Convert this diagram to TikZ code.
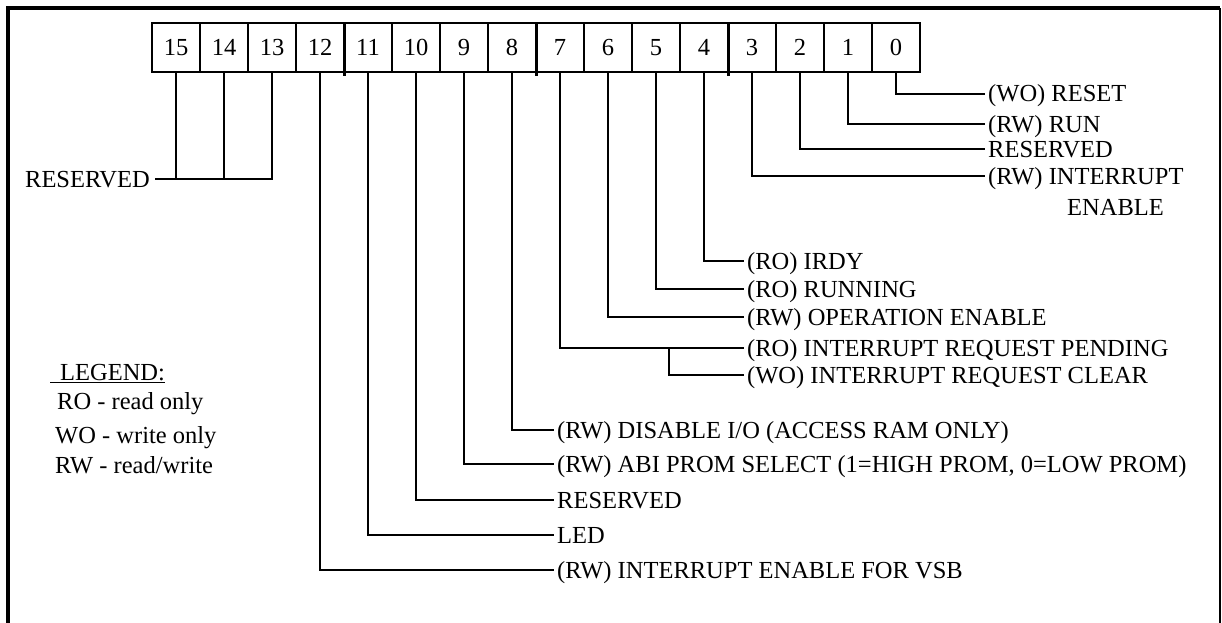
\documentclass[tikz,border=0pt]{standalone}
\usepackage{fontspec}
\setmainfont{Liberation Serif}
\begin{document}
\begin{tikzpicture}[x=1pt,y=-1pt,
  txt/.style={font=\fontsize{24.5}{28}\selectfont},
  cell/.style={txt,draw,line width=1.3pt,minimum width=48pt,minimum height=49pt,inner sep=0pt},
  lab/.style={txt,anchor=west,inner xsep=3pt,inner ysep=0pt,text height=16pt,text depth=0pt},
  leg/.style={txt,anchor=west,inner sep=0pt,text height=16pt,text depth=0pt},
  conn/.style={line width=1.3pt},
  sepline/.style={line width=2.6pt},
  frame/.style={line width=4pt}]
\useasboundingbox (0,0) rectangle (1222,623);
% frame
\draw[frame] (8,623) -- (8,8) -- (1220,8);
\draw[line width=2pt] (1219.5,8) -- (1219.5,623);
% register cells
\foreach \i in {0,...,15}
  \node[cell] (b\i) at ({176+48*(15-\i)},47.5) {\i};
\foreach \i in {12,8,4}
  \draw[sepline] (b\i.north east) -- ([yshift=-3pt]b\i.south east);
% labels
\node[lab] (l0) at (985,94) {(WO) RESET};
\node[lab] (l1) at (985,124) {(RW) RUN};
\node[lab] (l2) at (985,149) {RESERVED};
\node[lab] (l3) at (985,176) {(RW) INTERRUPT};
\node[lab] (l3b) at (1064,207) {ENABLE};
\node[lab] (l4) at (744,261) {(RO) IRDY};
\node[lab] (l5) at (744,289) {(RO) RUNNING};
\node[lab] (l6) at (744,317) {(RW) OPERATION ENABLE};
\node[lab] (l7) at (744,348) {(RO) INTERRUPT REQUEST PENDING};
\node[lab] (l7b) at (744,375) {(WO) INTERRUPT REQUEST CLEAR};
\node[lab] (l8) at (554,430) {(RW) DISABLE I/O (ACCESS RAM ONLY)};
\node[lab] (l9) at (554,464) {(RW) ABI PROM SELECT (1=HIGH PROM, 0=LOW PROM)};
\node[lab] (l10) at (554,500) {RESERVED};
\node[lab] (l11) at (554,535) {LED};
\node[lab] (l12) at (554,570) {(RW) INTERRUPT ENABLE FOR VSB};
\node[lab,anchor=east,inner xsep=5pt] (res) at (155,179) {RESERVED};
% connectors
\foreach \i in {0,...,12}
  \draw[conn] (b\i.south) |- (l\i.west);
\coordinate (j7) at (669,0);
\draw[conn] (j7 |- l7.west) |- (l7b.west);
\draw[conn] (res.east) -| (b13.south);
\draw[conn] (b15.south) -- (b15.south |- res.east);
\draw[conn] (b14.south) -- (b14.south |- res.east);
% legend
\node[leg] (legt) at (50,372) {\underline{\hspace{10pt}LEGEND:}};
\node[leg] (ro) at (57,401) {RO - read only};
\node[leg] (wo) at (55,435) {WO - write only};
\node[leg] (rw) at (55,465) {RW - read/write};
\end{tikzpicture}
\end{document}
